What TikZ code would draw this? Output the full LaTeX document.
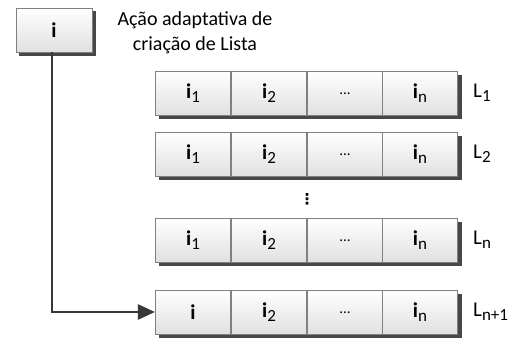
\documentclass[tikz,border=0pt]{standalone}
\usepackage{fontspec}
\setmainfont{Carlito}
\newfontfamily\dejavu{DejaVu Sans}
\usetikzlibrary{arrows.meta,backgrounds}
\begin{document}
\begin{tikzpicture}[x=1pt,y=-1pt,
  cell/.style={draw=black!50, line width=0.6pt, minimum width=75.5pt, minimum height=44pt,
    top color=white, bottom color=black!12, inner sep=0pt, font=\fontsize{21}{22}\selectfont\bfseries},
  lab/.style={anchor=west, font=\fontsize{21}{22}\selectfont, inner sep=0pt},
  conn/.style={draw=black!78, line width=2.4pt},
  shade/.style={fill=black!72}
]
\useasboundingbox (0,0) rectangle (520,339);
\def\sub#1{\raisebox{-0.4ex}{\fontsize{17}{18}\selectfont\mdseries #1}}
\def\ell{\mdseries\fontsize{15}{15}\selectfont\raisebox{-0.5ex}{...}}
\node[cell, minimum width=76pt] (i) at (54,30) {i};
\node[align=center, font=\fontsize{20}{25}\selectfont, inner sep=0pt] (t) at (195,33) {Ação adaptativa de\\criação de Lista};
% rows
\foreach \r/\y/\lab in {a/93/L\sub{1}, b/154/L\sub{2}, c/240/L\sub{n}}{
  \node[cell] (\r1) at (193,\y) {i\sub{1}};
  \node[cell] (\r2) at (269,\y) {i\sub{2}};
  \node[cell] (\r3) at (345,\y) {\ell};
  \node[cell] (\r4) at (420,\y) {i\sub{n}};
  \node[lab] (L\r) at (473,\y) {\lab};
}
\node[cell] (d1) at (193,312) {i};
\node[cell] (d2) at (269,312) {i\sub{2}};
\node[cell] (d3) at (345,312) {\ell};
\node[cell] (d4) at (420,312) {i\sub{n}};
\node[lab] (Ld) at (473,312) {L\sub{n+1}};
\begin{scope}[on background layer]
  \fill[shade] ([shift={(3.5,3.5)}]i.north west) rectangle ([shift={(3.5,3.5)}]i.south east);
  \foreach \r in {a,b,c,d}{
    \fill[shade] ([shift={(4,4)}]\r1.north west) rectangle ([shift={(4,4)}]\r4.south east);
  }
\end{scope}
\node[font=\dejavu\bfseries\fontsize{15}{15}\selectfont, inner sep=0pt] (dots) at (307,199) {⋮};
\draw[conn, -{Triangle[length=17pt,width=15pt]}] ([xshift=-2pt]i.south) |- (d1.west);
\end{tikzpicture}
\end{document}
